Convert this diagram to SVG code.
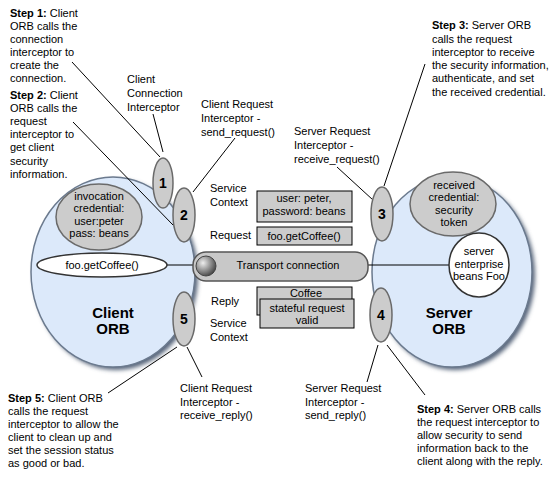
<svg xmlns="http://www.w3.org/2000/svg" width="550" height="485" viewBox="0 0 550 485">
<defs>
<style>
text{font-family:"Liberation Sans",Arial,sans-serif;font-size:11px;fill:#000}
.b{font-weight:bold}
.c{text-anchor:middle}
.orb{fill:#dce9fa;stroke:#6b7a8e;stroke-width:1.5}
.num{fill:#cccccc;stroke:#6a6a6a;stroke-width:1.5}
.box{fill:#cccccc;stroke:#000;stroke-width:1}
.lead{stroke:#000;stroke-width:1;fill:none}
.big{font-size:15px;font-weight:bold}
.n{font-size:14px;font-weight:bold}
</style>
<filter id="sh" x="-20%" y="-20%" width="140%" height="140%">
<feGaussianBlur stdDeviation="2"/>
</filter>
<radialGradient id="ball" cx="0.35" cy="0.35" r="0.7">
<stop offset="0" stop-color="#eeeeee"/>
<stop offset="0.6" stop-color="#888888"/>
<stop offset="1" stop-color="#444444"/>
</radialGradient>
</defs>
<rect width="550" height="485" fill="#fff"/>

<g id="client-orb">
<ellipse cx="116" cy="275" rx="82" ry="95" fill="#56657a" filter="url(#sh)"/>
<ellipse cx="113" cy="272" rx="82" ry="95" class="orb"/>
<text x="113" y="318" class="big c">Client</text>
<text x="113" y="334" class="big c">ORB</text>
</g>
<g id="server-orb">
<ellipse cx="455" cy="275" rx="80" ry="95" fill="#56657a" filter="url(#sh)"/>
<ellipse cx="452" cy="272" rx="80" ry="95" class="orb"/>
<text x="449" y="318" class="big c">Server</text>
<text x="449" y="334" class="big c">ORB</text>
</g>

<g id="connectors" class="lead">
<line x1="72" y1="62" x2="160" y2="157"/>
<line x1="153" y1="114" x2="163" y2="152"/>
<line x1="73" y1="122" x2="173" y2="225"/>
<line x1="235" y1="138" x2="193" y2="192"/>
<line x1="337" y1="167" x2="373" y2="200"/>
<line x1="425" y1="64" x2="384" y2="186"/>
<line x1="108" y1="393" x2="177" y2="347"/>
<line x1="187" y1="347" x2="202" y2="377"/>
<line x1="378" y1="345" x2="367" y2="382"/>
<line x1="387" y1="345" x2="425" y2="395"/>
<line x1="166" y1="265" x2="195" y2="265"/>
<line x1="366" y1="265" x2="449" y2="265"/>
</g>

<g id="invocation-credential">
<ellipse cx="99" cy="217" rx="43" ry="33" fill="#cccccc" stroke="#6a6a6a" stroke-width="1.5"/>
<text x="99" y="200" class="c">invocation</text>
<text x="99" y="212" class="c">credential:</text>
<text x="99" y="225" class="c">user:peter</text>
<text x="99" y="237" class="c">pass: beans</text>
</g>
<g id="client-foo">
<ellipse cx="102" cy="265" rx="65" ry="12" fill="#fff" stroke="#333" stroke-width="1.5"/>
<text x="102" y="269" class="c">foo.getCoffee()</text>
</g>
<g id="received-credential">
<ellipse cx="453" cy="204" rx="43" ry="32" fill="#cccccc" stroke="#6a6a6a" stroke-width="1.5"/>
<text x="454" y="189" class="c">received</text>
<text x="454" y="201" class="c">credential:</text>
<text x="454" y="214" class="c">security</text>
<text x="454" y="226" class="c">token</text>
</g>
<g id="server-beans">
<ellipse cx="479" cy="265" rx="30" ry="32" fill="#fff" stroke="#333" stroke-width="1.5"/>
<text x="479" y="255" class="c">server</text>
<text x="479" y="268" class="c">enterprise</text>
<text x="479" y="280" class="c">beans Foo</text>
</g>

<g id="transport">
<rect x="193" y="252" width="175" height="29" rx="13" fill="#c8c8c8" stroke="#555" stroke-width="1.5"/>
<circle cx="206" cy="266" r="10" fill="url(#ball)" stroke="#444" stroke-width="1"/>
<text x="288" y="269" class="c">Transport connection</text>
</g>

<g id="n1"><ellipse cx="163" cy="183" rx="10" ry="25" class="num"/><text x="163" y="188" class="n c">1</text></g>
<g id="n2"><ellipse cx="184" cy="215" rx="11" ry="27" class="num"/><text x="184" y="220" class="n c">2</text></g>
<g id="n3"><ellipse cx="382" cy="214" rx="11" ry="27" class="num"/><text x="382" y="219" class="n c">3</text></g>
<g id="n4"><ellipse cx="381" cy="315" rx="11" ry="27" class="num"/><text x="381" y="320" class="n c">4</text></g>
<g id="n5"><ellipse cx="184" cy="319" rx="11" ry="27" class="num"/><text x="184" y="324" class="n c">5</text></g>

<g id="request-context">
<text x="210" y="192">Service</text>
<text x="210" y="206">Context</text>
<rect x="257" y="191" width="95" height="31" class="box"/>
<text x="304" y="202" class="c">user: peter,</text>
<text x="304" y="215" class="c">password: beans</text>
</g>
<g id="request">
<text x="210" y="239">Request</text>
<rect x="257" y="227" width="95" height="18" class="box"/>
<text x="304" y="240" class="c">foo.getCoffee()</text>
</g>
<g id="reply">
<text x="211" y="305">Reply</text>
<rect x="257" y="287" width="95" height="28" class="box"/>
<text x="306" y="297" class="c">Coffee</text>
</g>
<g id="reply-context">
<text x="210" y="327">Service</text>
<text x="210" y="341">Context</text>
<rect x="260" y="299" width="94" height="29" class="box"/>
<text x="307" y="312" class="c">stateful request</text>
<text x="307" y="324" class="c">valid</text>
</g>

<g id="step1">
<text x="10" y="17"><tspan class="b">Step 1:</tspan> Client</text>
<text x="10" y="30">ORB calls the</text>
<text x="10" y="43">connection</text>
<text x="10" y="56">interceptor to</text>
<text x="10" y="69">create the</text>
<text x="10" y="82">connection.</text>
</g>
<g id="step2">
<text x="10" y="99"><tspan class="b">Step 2:</tspan> Client</text>
<text x="10" y="112">ORB calls the</text>
<text x="10" y="125">request</text>
<text x="10" y="138">interceptor to</text>
<text x="10" y="151">get client</text>
<text x="10" y="165">security</text>
<text x="10" y="178">information.</text>
</g>
<g id="client-connection-interceptor">
<text x="127" y="83">Client</text>
<text x="127" y="97">Connection</text>
<text x="127" y="111">Interceptor</text>
</g>
<g id="send-request-label">
<text x="201" y="108">Client Request</text>
<text x="201" y="122">Interceptor -</text>
<text x="201" y="136">send_request()</text>
</g>
<g id="receive-request-label">
<text x="294" y="135">Server Request</text>
<text x="294" y="149">Interceptor -</text>
<text x="294" y="163">receive_request()</text>
</g>
<g id="step3">
<text x="432" y="29"><tspan class="b">Step 3:</tspan> Server ORB</text>
<text x="432" y="43">calls the request</text>
<text x="432" y="56">interceptor to receive</text>
<text x="432" y="69">the security information,</text>
<text x="432" y="82">authenticate, and set</text>
<text x="432" y="96">the received credential.</text>
</g>
<g id="step5">
<text x="8" y="402"><tspan class="b">Step 5:</tspan> Client ORB</text>
<text x="8" y="415">calls the request</text>
<text x="8" y="428">interceptor to allow the</text>
<text x="8" y="441">client to clean up and</text>
<text x="8" y="454">set the session status</text>
<text x="8" y="467">as good or bad.</text>
</g>
<g id="receive-reply-label">
<text x="180" y="392">Client Request</text>
<text x="180" y="406">Interceptor -</text>
<text x="180" y="419">receive_reply()</text>
</g>
<g id="send-reply-label">
<text x="305" y="392">Server Request</text>
<text x="305" y="406">Interceptor -</text>
<text x="305" y="419">send_reply()</text>
</g>
<g id="step4">
<text x="417" y="413"><tspan class="b">Step 4:</tspan> Server ORB calls</text>
<text x="417" y="426">the request interceptor to</text>
<text x="417" y="439">allow security to send</text>
<text x="417" y="452">information back to the</text>
<text x="417" y="465">client along with the reply.</text>
</g>
</svg>
